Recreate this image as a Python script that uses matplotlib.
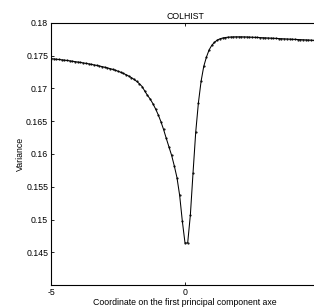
import numpy as np
import matplotlib
matplotlib.use("Agg")
import matplotlib.pyplot as plt

# coordinate on the first principal component axe, step 0.1
coord = np.round(np.arange(-50, 51) / 10.0, 1)

variance_left = [
    0.17456, 0.17452, 0.17447, 0.17443, 0.17438, 0.17433, 0.17428, 0.17422, 0.17416, 0.17410,
    0.17404, 0.17398, 0.17391, 0.17384, 0.17377, 0.17369, 0.17361, 0.17353, 0.17344, 0.17335,
    0.17325, 0.17315, 0.17304, 0.17292, 0.17279, 0.17264, 0.17248, 0.17230, 0.17211, 0.17190,
    0.17166, 0.17139, 0.17108, 0.17072, 0.17030, 0.16960, 0.16895, 0.16840, 0.16770, 0.16690,
    0.16600, 0.16495, 0.16375, 0.16240, 0.16110, 0.15980, 0.15820, 0.15640, 0.15370, 0.14976,
]
variance_right = [
    0.14642, 0.14642, 0.15068, 0.15714, 0.16333, 0.16781, 0.17110, 0.17339, 0.17480, 0.17590,
    0.17660, 0.17705, 0.17738, 0.17758, 0.17770, 0.17778, 0.17783, 0.17786, 0.17788, 0.17789,
    0.17789, 0.17789, 0.17788, 0.17787, 0.17785, 0.17783, 0.17781, 0.17779, 0.17777, 0.17775,
    0.17773, 0.17771, 0.17769, 0.17767, 0.17765, 0.17762, 0.17760, 0.17758, 0.17756, 0.17754,
    0.17752, 0.17750, 0.17748, 0.17746, 0.17744, 0.17742, 0.17740, 0.17738, 0.17735, 0.17733,
    0.17731,
]
variance = variance_left + variance_right

yticks = [0.145, 0.15, 0.155, 0.16, 0.165, 0.17, 0.175, 0.18]
xticks = [-5, 0, 5]
xticklabels = ["-5", "0", ""]  # the 5 label falls outside the cropped picture

plt.rcParams["font.family"] = ["Liberation Sans", "DejaVu Sans"]
fs = 6.3

fig = plt.figure(figsize=(3.14, 3.07), dpi=100)
ax = fig.add_axes([51 / 314, 22 / 307, 268 / 314, 262 / 307])
ax.plot(coord, variance, color="black", lw=0.75, marker=".", ms=1.1)

ax.set_xlim(-5, 5)
ax.set_ylim(0.14, 0.18)
ax.set_xticks(xticks)
ax.set_xticklabels(xticklabels)
ax.set_yticks(yticks)
ax.set_yticklabels(["%g" % t for t in yticks])
ax.tick_params(direction="in", length=2, width=0.6, labelsize=fs, pad=2,
               top=True, right=True)
for sp in ax.spines.values():
    sp.set_linewidth(0.8)

ax.set_title("COLHIST", fontsize=fs, pad=3)
ax.set_xlabel("Coordinate on the first principal component axe", fontsize=fs, labelpad=1)
ax.set_ylabel("Variance", fontsize=fs, labelpad=1)

fig.savefig("out.png", dpi=100)
